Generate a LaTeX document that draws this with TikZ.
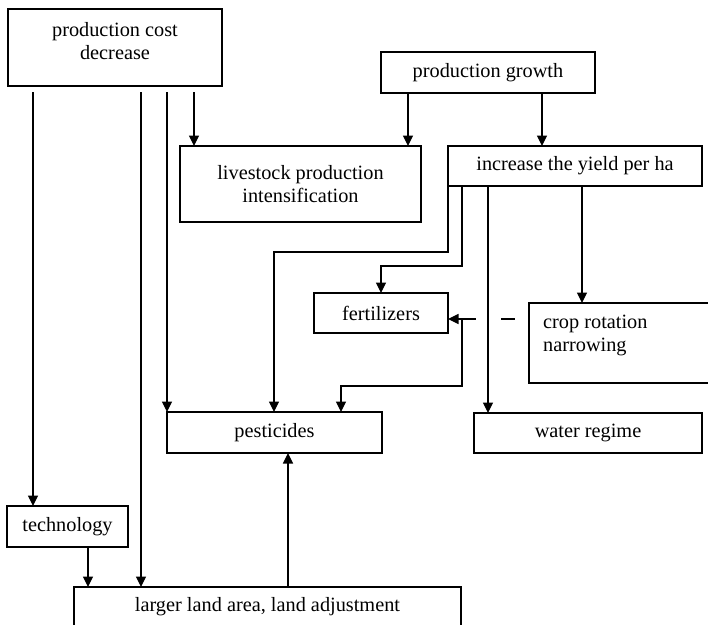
\documentclass[tikz,border=0pt]{standalone}
\usepackage{fontspec}
\setmainfont{Liberation Serif}
\usetikzlibrary{calc,arrows.meta}

\begin{document}
\begin{tikzpicture}[
  x=1pt, y=-1pt,
  >={Triangle[length=10.5pt,width=10pt]},
  txt/.style={font=\fontsize{20.3pt}{23pt}\selectfont},
  box/.style={txt, draw, line width=1.2pt, outer sep=0pt, anchor=north west, inner sep=0pt, align=center},
  arr/.style={draw, line width=1.2pt, ->}
]
\useasboundingbox (0,0) rectangle (708,624);
\node[box, minimum width=214pt, minimum height=77pt, text depth=14pt] (cost) at (8,9) {production cost\\decrease};
\node[box, minimum width=214pt, minimum height=41pt] (growth) at (381,52) {production growth};
\node[box, minimum width=241pt, minimum height=76pt] (stock) at (180,146) {livestock production\\intensification};
\node[box, minimum width=254pt, minimum height=40pt] (yield) at (448,146) {increase the yield per ha};
\node[box, minimum width=134pt, minimum height=40pt] (fert) at (314,293) {fertilizers};
\node[box, minimum width=190pt, minimum height=80pt] (crop) at (529,303) {};
\node[txt, anchor=north west, inner sep=0pt, align=left] (croptext) at ($(crop.north west)+(14,12)$) {crop rotation\\narrowing};
\node[box, minimum width=215pt, minimum height=41pt] (pest) at (167,412) {pesticides};
\node[box, minimum width=228pt, minimum height=40pt] (water) at (474,413) {water regime};
\node[box, minimum width=121pt, minimum height=41pt] (tech) at (7,506) {technology};
\node[box, minimum width=387pt, minimum height=40pt] (land) at (74,587) {larger land area, land adjustment};

\draw[arr] ($(cost.south west)+(25,6)$) coordinate (c1) -- (c1 |- tech.north);
\draw[arr] ($(cost.south west)+(133,6)$) coordinate (c2) -- (c2 |- land.north);
\draw[arr] ($(cost.south west)+(159,6)$) coordinate (c3) -- (c3 |- pest.north);
\draw[arr] ($(cost.south west)+(186,6)$) coordinate (c4) -- (c4 |- stock.north);
\draw[arr] ($(growth.south west)+(27,0)$) coordinate (g1) -- (g1 |- stock.north);
\draw[arr] ($(growth.south west)+(161,0)$) coordinate (g2) -- (g2 |- yield.north);
\draw[arr] (yield.south west) -- ++(0,66) -| ($(pest.north west)+(107,0)$);
\draw[arr] ($(yield.south west)+(14,0)$) -- ++(0,80) -| (fert.north);
\draw[arr] ($(yield.south west)+(40,0)$) coordinate (y3) -- (y3 |- water.north);
\draw[arr] ($(yield.south west)+(134,0)$) coordinate (y4) -- (y4 |- crop.north);
\draw[line width=1.2pt, <-, dash pattern=on 18pt off 25pt on 14pt off 40pt] ($(fert.north east)+(0,26)$) coordinate (f1) -- (f1 -| crop.west);
\draw[arr] ($(f1)+(14,0)$) -- ++(0,67) -| ($(pest.north west)+(174,0)$);
\draw[arr] ($(tech.south east)+(-40,0)$) coordinate (t1) -- (t1 |- land.north);
\draw[arr] ($(land.north west)+(214,0)$) coordinate (l1) -- (l1 |- pest.south);
\end{tikzpicture}
\end{document}
